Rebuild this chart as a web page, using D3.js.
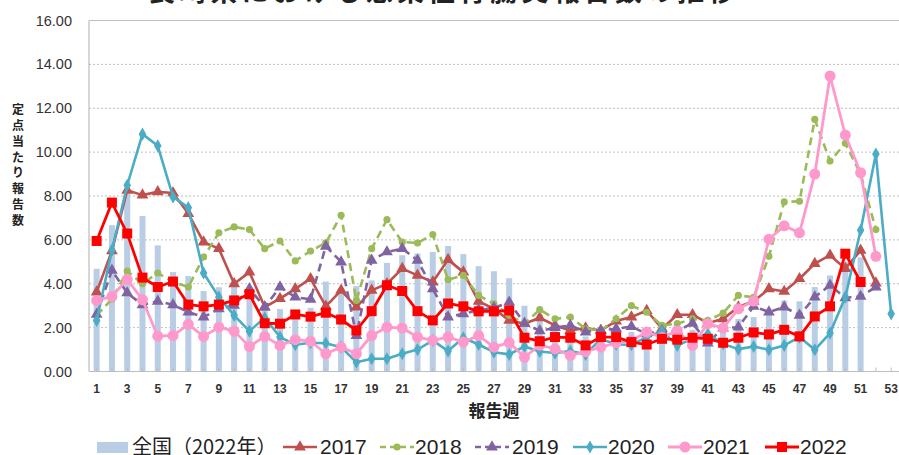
<!DOCTYPE html>
<html><head><meta charset="utf-8">
<script src="https://cdn.jsdelivr.net/npm/d3@7"></script>
<style>body{margin:0;background:#fff;overflow:hidden}svg{display:block}</style>
</head><body><svg id="c" width="899" height="455"></svg>
<script>
const weeks = d3.range(1, 54);
const xTickLabels = d3.range(1, 54, 2).map(String);
const yTicks = [0, 2, 4, 6, 8, 10, 12, 14, 16];
const title = "長崎県における感染性胃腸炎報告数の推移";
const yTitle = "定点当たり報告数";
const xTitle = "報告週";

const national2022 = [4.68,6.67,8.2,7.09,5.75,4.53,4.35,3.67,3.84,3.85,3.85,3.0,2.85,2.6,2.9,4.1,3.8,3.9,4.15,4.95,5.3,5.38,5.45,5.72,5.35,4.8,4.57,4.25,3.0,2.6,1.9,1.7,1.6,1.57,1.7,1.8,1.75,1.8,1.7,1.9,1.8,2.0,2.4,2.48,2.7,3.24,3.2,3.85,4.38,5.0,5.2,null,null];
const s2017 = [3.62,5.5,8.26,8.04,8.19,8.14,7.2,5.9,5.6,4.0,4.53,2.94,3.32,3.77,4.23,2.97,3.7,2.94,3.7,4.0,4.69,4.38,4.08,5.1,4.53,3.2,2.86,2.33,2.18,2.45,2.1,1.87,1.98,1.87,2.3,2.48,2.78,1.95,2.59,2.59,2.2,2.4,2.94,3.2,3.77,3.65,4.23,4.92,5.3,4.69,5.52,4.03,null];
const s2018 = [2.56,3.3,4.58,4.0,4.49,4.08,3.85,5.22,6.32,6.59,6.47,5.6,5.95,5.04,5.49,5.87,7.12,3.24,5.6,6.92,5.9,5.86,6.24,4.18,4.38,3.47,3.09,2.56,2.18,2.82,2.4,2.48,1.95,1.87,2.4,3.0,2.7,2.1,2.18,2.4,2.33,2.66,3.47,3.38,5.25,7.73,7.76,11.49,9.59,10.4,9.0,6.47,null];
const s2019 = [2.6,4.61,3.58,3.04,3.2,3.04,2.71,2.48,2.86,3.01,3.77,2.94,3.85,3.39,3.29,5.71,4.99,1.64,5.07,5.45,5.6,5.07,3.77,2.48,2.63,2.8,2.9,3.16,2.2,1.85,2.0,2.1,1.8,1.87,1.95,2.05,1.72,1.87,1.85,2.2,1.3,1.98,2.02,2.97,2.71,2.94,2.56,3.39,3.93,3.36,3.42,3.85,null];
const s2020 = [2.33,5.52,8.49,10.82,10.29,7.96,7.47,4.49,3.39,2.56,1.84,2.45,1.57,1.22,1.31,1.29,1.11,0.42,0.58,0.58,0.81,1.0,1.42,0.93,1.54,1.23,0.88,0.78,1.14,0.91,0.84,0.93,0.78,1.49,1.23,1.22,1.57,1.84,1.19,1.49,1.72,1.26,1.02,1.14,0.99,1.19,1.57,0.99,1.75,3.39,6.44,9.91,2.63];
const s2021 = [3.24,3.42,4.2,3.27,1.61,1.64,2.15,1.6,2.02,1.84,1.14,1.6,1.19,1.45,1.38,0.81,1.11,0.81,1.64,2.02,1.98,1.57,1.42,1.57,1.34,1.64,1.11,1.32,0.65,1.2,1.03,0.73,0.9,1.11,1.3,1.4,1.8,1.55,1.86,1.19,2.18,1.98,2.86,3.21,6.03,6.64,6.32,9.0,13.47,10.78,9.06,5.25,null];
const s2022 = [5.95,7.7,6.29,4.28,3.85,4.1,3.05,2.97,3.05,3.24,3.52,2.2,2.18,2.6,2.5,2.68,2.37,1.87,2.75,3.93,3.67,2.75,2.33,3.1,2.97,2.74,2.74,2.78,1.54,1.38,1.57,1.54,1.19,1.57,1.57,1.34,1.23,1.49,1.45,1.54,1.49,1.31,1.54,1.78,1.69,1.9,1.6,2.51,2.97,5.37,4.08,null,null];

const seriesNames = ["2017","2018","2019","2020","2021","2022"];
const seriesValues = [s2017, s2018, s2019, s2020, s2021, s2022];
const barLabel = "全国（2022年）";

const styles = {
  "2017": {color:"#C0504D", dash:null, sym:d3.symbolTriangle, size:60, w:2.6},
  "2018": {color:"#9BBB59", dash:"8,5", sym:d3.symbolCircle, size:40, w:2.6},
  "2019": {color:"#8064A2", dash:"8,5", sym:d3.symbolTriangle, size:60, w:2.6},
  "2020": {color:"#4BACC6", dash:null, sym:d3.symbolDiamond, size:50, w:2.6},
  "2021": {color:"#FF99CC", dash:null, sym:d3.symbolCircle, size:95, w:2.8},
  "2022": {color:"#FF0000", dash:null, sym:d3.symbolSquare, size:100, w:2.8}
};

const svg = d3.select("#c");
const L = 89, R = 898.8, T = 20.5, B = 371.5;
const x = d3.scaleBand().domain(weeks).range([L, R]).padding(0);
const y = d3.scaleLinear().domain([0, 16]).range([B, T]);
const cx = w => x(w) + x.bandwidth() / 2;

// title (clipped at top)
svg.append("text").attr("x", 148).attr("y", 0.5).attr("textLength", 587)
  .attr("font-family", "'Noto Sans CJK JP'").attr("font-weight", "bold").attr("font-size", 27)
  .attr("fill", "#222").text(title);

// gridlines
svg.append("g").selectAll("line").data(yTicks.filter(v => v > 0 && v < 16)).join("line")
  .attr("x1", L).attr("x2", 899).attr("y1", d => y(d)).attr("y2", d => y(d))
  .attr("stroke", "#BFBFBF").attr("stroke-width", 1).attr("stroke-dasharray", "2,2");
svg.append("line").attr("x1", L).attr("x2", 899).attr("y1", y(16)).attr("y2", y(16))
  .attr("stroke", "#BDBDBD").attr("stroke-width", 1.2);

// y axis labels
svg.append("g").selectAll("text").data(yTicks).join("text")
  .attr("x", 72).attr("y", d => y(d)).attr("dy", "0.35em").attr("text-anchor", "end")
  .attr("font-family", "'Liberation Sans', Arial, sans-serif").attr("font-size", 14.5)
  .attr("fill", "#333").text(d => d.toFixed(2));

// bars
svg.append("g").selectAll("rect").data(weeks.filter((w, i) => national2022[i] != null)).join("rect")
  .attr("x", w => cx(w) - 3).attr("width", 6)
  .attr("y", w => y(national2022[w - 1])).attr("height", w => B - y(national2022[w - 1]))
  .attr("fill", "#B9CDE5");

// axes lines
svg.append("line").attr("x1", L).attr("x2", L).attr("y1", T).attr("y2", B).attr("stroke", "#BDBDBD").attr("stroke-width", 1.2);
svg.append("line").attr("x1", L).attr("x2", 899).attr("y1", B).attr("y2", B).attr("stroke", "#BDBDBD").attr("stroke-width", 1.2);
svg.append("g").selectAll("line").data(weeks).join("line")
  .attr("x1", w => cx(w)).attr("x2", w => cx(w)).attr("y1", B).attr("y2", B - 4)
  .attr("stroke", "#BDBDBD");

// x labels
svg.append("g").selectAll("text").data(xTickLabels).join("text")
  .attr("x", d => cx(+d)).attr("y", 389).attr("dy", "0.35em").attr("text-anchor", "middle")
  .attr("font-family", "'Liberation Sans', Arial, sans-serif").attr("font-weight", "bold").attr("font-size", 12)
  .attr("fill", "#333").text(d => d);

// axis titles
svg.append("text").attr("x", 494).attr("y", 411).attr("dy", "0.35em").attr("text-anchor", "middle")
  .attr("font-family", "'Noto Sans CJK JP'").attr("font-weight", "bold").attr("font-size", 17)
  .attr("fill", "#222").text(xTitle);
svg.append("g").selectAll("text").data(Array.from(yTitle)).join("text")
  .attr("x", 18).attr("y", (d, i) => 110 + i * 15.8).attr("dy", "0.35em").attr("text-anchor", "middle")
  .attr("font-family", "'Noto Sans CJK JP'").attr("font-weight", "bold").attr("font-size", 12)
  .attr("fill", "#222").text(d => d);

// series
const line = d3.line().defined(d => d.v != null).x(d => cx(d.w)).y(d => y(d.v));
seriesNames.forEach((name, si) => {
  const st = styles[name];
  const pts = weeks.map((w, i) => ({w, v: seriesValues[si][i]}));
  const g = svg.append("g");
  g.append("path").attr("d", line(pts)).attr("fill", "none").attr("stroke", st.color)
    .attr("stroke-width", st.w).attr("stroke-dasharray", st.dash).attr("stroke-linejoin", "round");
  g.selectAll("path.m").data(pts.filter(d => d.v != null)).join("path").attr("class", "m")
    .attr("transform", d => `translate(${cx(d.w)},${y(d.v)})`)
    .attr("d", d3.symbol().type(st.sym).size(st.size)).attr("fill", st.color);
});

// legend
const ly = 447;
const lg = svg.append("g").attr("font-family", "'Liberation Sans', 'Noto Sans CJK JP', sans-serif").attr("font-size", 21).attr("fill", "#222");
lg.append("rect").attr("x", 97).attr("y", ly - 5).attr("width", 31).attr("height", 11).attr("fill", "#B9CDE5");
lg.append("text").attr("x", 132).attr("y", ly).attr("dy", "0.35em").attr("font-family", "'Noto Sans CJK JP'").attr("font-size", 20).text(barLabel);
const legX = [[283, 320], [380, 415], [475, 512], [573, 608], [668, 703], [765, 800]];
seriesNames.forEach((name, i) => {
  const st = styles[name];
  const [x0, tx] = legX[i];
  lg.append("line").attr("x1", x0).attr("x2", x0 + 34).attr("y1", ly).attr("y2", ly)
    .attr("stroke", st.color).attr("stroke-width", st.w).attr("stroke-dasharray", st.dash ? "6,4" : null);
  lg.append("path").attr("transform", `translate(${x0 + 17},${ly})`)
    .attr("d", d3.symbol().type(st.sym).size(st.size)).attr("fill", st.color);
  lg.append("text").attr("x", tx).attr("y", ly).attr("dy", "0.35em").text(name);
});
</script></body></html>
